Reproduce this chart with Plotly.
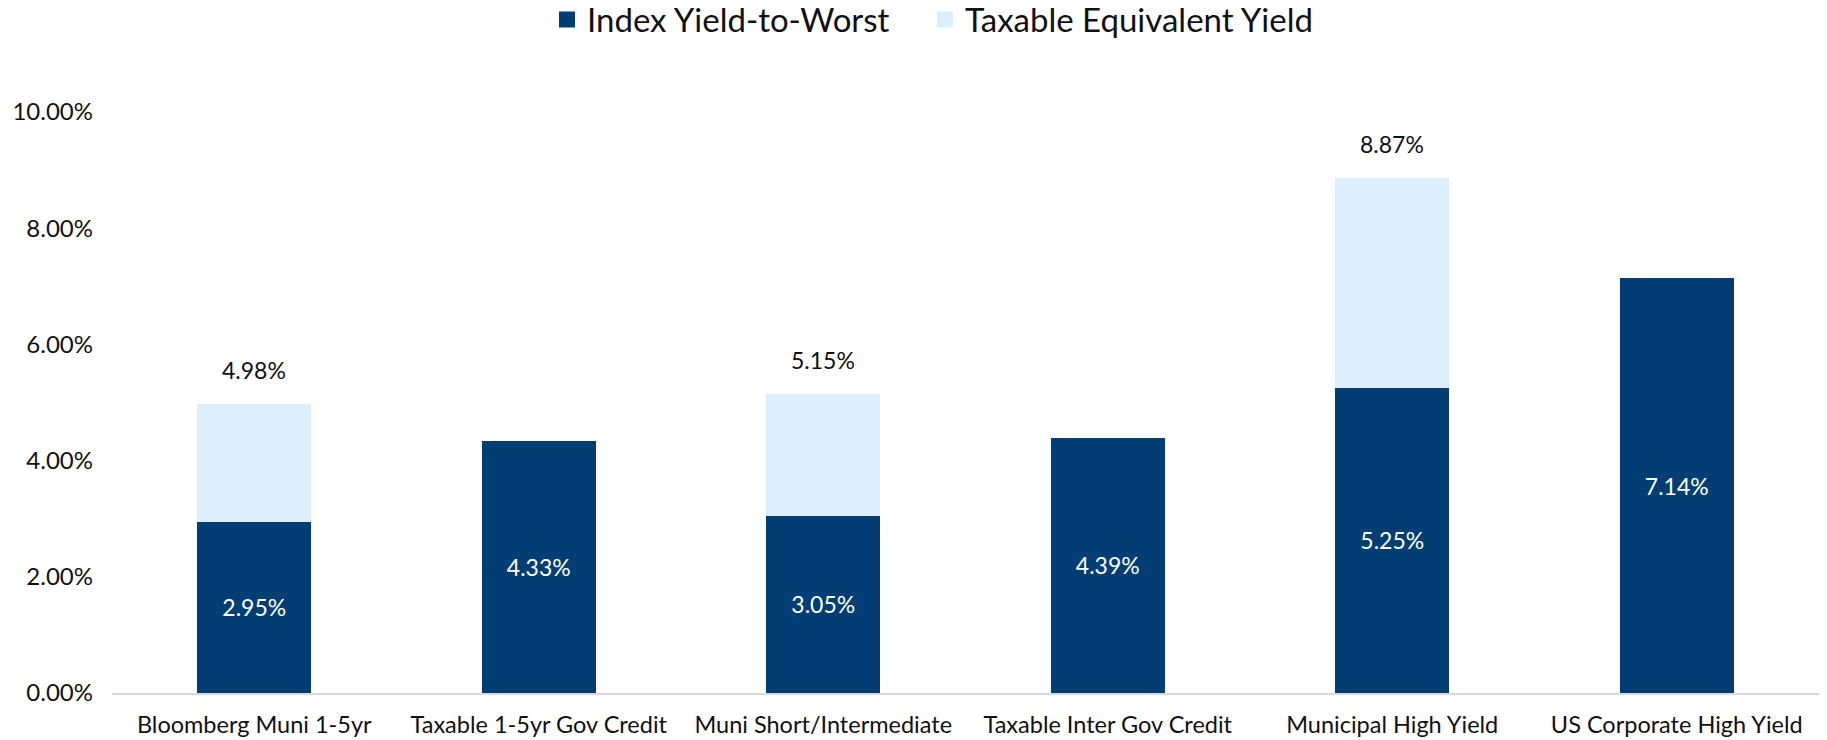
import plotly.graph_objects as go

categories = ["Bloomberg Muni 1-5yr", "Taxable 1-5yr Gov Credit", "Muni Short/Intermediate",
              "Taxable Inter Gov Credit", "Municipal High Yield", "US Corporate High Yield"]
index_ytw = [2.95, 4.33, 3.05, 4.39, 5.25, 7.14]
taxable_equiv = [4.98, None, 5.15, None, 8.87, None]
tick_vals = [0, 2, 4, 6, 8, 10]
tick_text = ["0.00%", "2.00%", "4.00%", "6.00%", "8.00%", "10.00%"]
series_names = ["Index Yield-to-Worst", "Taxable Equivalent Yield"]

DARK = "#023E73"
LIGHT = "#DDEEFD"
FONT = "Lato, 'Open Sans', sans-serif"

extra = [(t - i) if t is not None else 0 for t, i in zip(taxable_equiv, index_ytw)]

fig = go.Figure()
fig.add_trace(go.Bar(
    x=categories, y=index_ytw, name=series_names[0], showlegend=False,
    marker=dict(color=DARK, line=dict(width=0)),
    text=[f"{v:.2f}%" for v in index_ytw], textposition="inside",
    insidetextanchor="middle", textangle=0,
    textfont=dict(color="white", size=23, family=FONT),
))
fig.add_trace(go.Bar(
    x=categories, y=extra, name=series_names[1], showlegend=False,
    marker=dict(color=LIGHT, line=dict(width=0)),
))
# legend entries with larger square swatches, each in its own legend box
for nm, col, lg in zip(series_names, [DARK, LIGHT], ["legend", "legend2"]):
    fig.add_trace(go.Scatter(x=[None], y=[None], mode="markers", name=nm, legend=lg,
                             marker=dict(symbol="square", size=18, color=col)))

for c, t in zip(categories, taxable_equiv):
    if t is not None:
        fig.add_annotation(x=c, y=t, text=f"{t:.2f}%", showarrow=False,
                           yanchor="middle", yshift=34,
                           font=dict(size=23, color="#111111", family=FONT))

legend_common = dict(orientation="h", xanchor="left", xref="container",
                     y=0.9736, yref="container", yanchor="middle",
                     font=dict(size=33, family=FONT, color="#111111"),
                     itemwidth=30, bgcolor="rgba(0,0,0,0)")

fig.update_layout(
    barmode="stack", bargap=0.6,
    width=1827, height=740,
    margin=dict(l=112, r=8, t=112, b=47, autoexpand=False),
    paper_bgcolor="white", plot_bgcolor="white",
    font=dict(family=FONT, size=23, color="#111111"),
    legend=dict(x=0.2994, **legend_common),
    legend2=dict(x=0.5063, **legend_common),
)
fig.update_xaxes(showline=True, linecolor="#D9D9D9", linewidth=2, showgrid=False,
                 ticks="", ticklabelstandoff=10, tickfont=dict(size=23.5, family=FONT))
fig.update_yaxes(range=[0, 10], tickvals=tick_vals, ticktext=tick_text, showgrid=False,
                 zeroline=False, showline=False, ticklabelstandoff=18,
                 tickfont=dict(size=24, family=FONT))

fig.write_html("out.html", config={"displayModeBar": False},
               post_script="document.body.style.margin='0px';")
